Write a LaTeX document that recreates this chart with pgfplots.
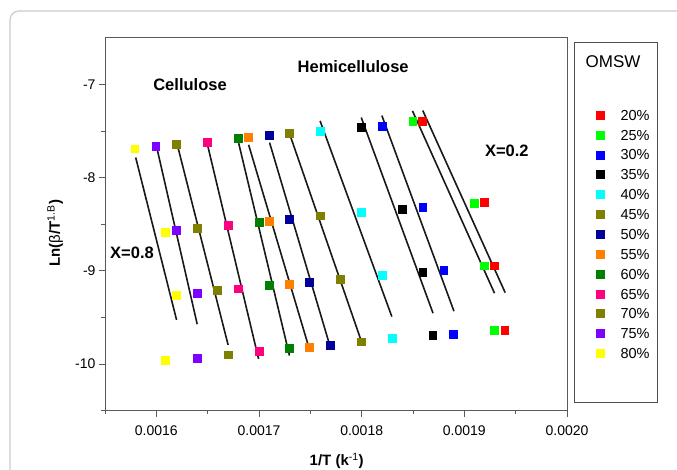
\documentclass[border=0pt]{standalone}
\usepackage{fontspec}
\setmainfont{Liberation Sans}
\usepackage{pgfplots}
\pgfplotsset{compat=1.18}

\definecolor{c20}{HTML}{FF0000}
\definecolor{c25}{HTML}{00FF00}
\definecolor{c30}{HTML}{0000FF}
\definecolor{c35}{HTML}{000000}
\definecolor{c40}{HTML}{00FFFF}
\definecolor{c45}{HTML}{808000}
\definecolor{c50}{HTML}{000099}
\definecolor{c55}{HTML}{FF8000}
\definecolor{c60}{HTML}{008000}
\definecolor{c65}{HTML}{FF0080}
\definecolor{c70}{HTML}{808000}
\definecolor{c75}{HTML}{8000FF}
\definecolor{c80}{HTML}{FFFF00}

\pgfplotsset{
  mk/.style={only marks, mark=square*, mark size=3.9pt, color=#1, mark options={draw=#1, fill=#1}},
  fit/.style={black!90, line width=1.6pt, forget plot},
}

\begin{document}
\begin{tikzpicture}
\useasboundingbox (0pt,0pt) rectangle (677pt,469pt);
\fill[white] (0pt,0pt) rectangle (677pt,469pt);
\begin{scope}
\clip (0pt,0pt) rectangle (677pt,469pt);
\draw[gray!40, line width=1.2pt, rounded corners=9pt] (10pt,-30pt) rectangle (720pt,458pt);
\end{scope}
% legend frame and title
\draw[black!70, line width=0.9pt] (574.3pt,66.3pt) rectangle (657.3pt,426.7pt);
\node[font=\fontsize{17}{17}\selectfont] at (613pt,407.3pt) {OMSW};

\begin{axis}[
    at={(105pt,58.3pt)}, anchor=south west,
    scale only axis, width=462pt, height=373pt,
    xmin=0.00155, xmax=0.0020, ymin=-10.5, ymax=-6.5,
    xtick={0.0016,0.0017,0.0018,0.0019,0.0020},
    minor xtick={0.00155,0.00165,0.00175,0.00185,0.00195},
    ytick={-10,-9,-8,-7},
    minor ytick={-10.5,-9.5,-8.5,-7.5},
    tick pos=left, tick align=outside,
    major tick length=6pt, minor tick length=3.5pt,
    every tick/.style={black!65, line width=0.9pt},
    axis line style={black!65, line width=0.9pt},
    scaled x ticks=false,
    xticklabel style={yshift=-5pt, /pgf/number format/.cd, fixed, fixed zerofill, precision=4},
    /pgf/number format/assume math mode=true,
    tick label style={font=\fontsize{14}{14}\selectfont, black},
    xlabel={1/T (k\textsuperscript{\mdseries -1})},
    ylabel={Ln({\mdseries β}/T\textsuperscript{\mdseries 1.B})},
    every axis x label/.style={at={(axis description cs:0.5015,-0.135)}, anchor=center, font=\fontsize{15}{15}\selectfont\bfseries},
    every axis y label/.style={at={(axis description cs:-0.108,0.476)}, anchor=center, rotate=90, font=\fontsize{15}{15}\selectfont\bfseries},
    legend style={at={(axis description cs:1.0623,0.8068)}, anchor=north west, draw=none, fill=none,
      inner sep=0pt, outer sep=0pt, row sep=9.36pt, font=\fontsize{14.5}{14.5}\selectfont,
      nodes={inner sep=0pt, text height=10.5pt, text depth=0pt},
      /tikz/every odd column/.style={column sep=16.8pt}},
    legend cell align=left,
    legend image code/.code={\draw[#1, mark size=4pt] plot coordinates {(0pt,0pt)};},
]
\addplot[mk=c20] coordinates {(0.0018592,-7.399) (0.0019190,-8.261) (0.0019287,-8.944) (0.0019394,-9.634)};
\addlegendentry{20\%}
\addplot[mk=c25] coordinates {(0.0018498,-7.399) (0.0019097,-8.271) (0.0019194,-8.944) (0.0019291,-9.634)};
\addlegendentry{25\%}
\addplot[mk=c30] coordinates {(0.0018197,-7.445) (0.0018595,-8.317) (0.0018799,-8.993) (0.0018893,-9.680)};
\addlegendentry{30\%}
\addplot[mk=c35] coordinates {(0.0017996,-7.456) (0.0018391,-8.339) (0.0018595,-9.015) (0.0018692,-9.690)};
\addlegendentry{35\%}
\addplot[mk=c40] coordinates {(0.0017595,-7.499) (0.0017993,-8.375) (0.0018197,-9.051) (0.0018294,-9.723)};
\addlegendentry{40\%}
\addplot[mk=c45] coordinates {(0.0017297,-7.524) (0.0017595,-8.408) (0.0017789,-9.087) (0.0017993,-9.759)};
\addlegendentry{45\%}
\addplot[mk=c50] coordinates {(0.0017097,-7.549) (0.0017297,-8.446) (0.0017491,-9.119) (0.0017695,-9.794)};
\addlegendentry{50\%}
\addplot[mk=c55] coordinates {(0.0016896,-7.571) (0.0017097,-8.468) (0.0017297,-9.143) (0.0017491,-9.816)};
\addlegendentry{55\%}
\addplot[mk=c60] coordinates {(0.0016799,-7.582) (0.0017000,-8.478) (0.0017097,-9.154) (0.0017297,-9.830)};
\addlegendentry{60\%}
\addplot[mk=c65] coordinates {(0.0016495,-7.620) (0.0016699,-8.515) (0.0016799,-9.191) (0.0017000,-9.866)};
\addlegendentry{65\%}
\addplot[mk=c70] coordinates {(0.0016197,-7.642) (0.0016398,-8.540) (0.0016592,-9.212) (0.0016699,-9.899)};
\addlegendentry{70\%}
\addplot[mk=c75] coordinates {(0.0015993,-7.667) (0.0016194,-8.561) (0.0016398,-9.237) (0.0016398,-9.934)};
\addlegendentry{75\%}
\addplot[mk=c80] coordinates {(0.0015789,-7.690) (0.0016087,-8.586) (0.0016194,-9.258) (0.0016087,-9.959)};
\addlegendentry{80\%}

% fitted lines
\addplot[fit] coordinates {(0.0015799,-7.785) (0.0016197,-9.526)};
\addplot[fit] coordinates {(0.0016006,-7.685) (0.0016398,-9.572)};
\addplot[fit] coordinates {(0.0016207,-7.660) (0.0016699,-9.794)};
\addplot[fit] coordinates {(0.0016501,-7.660) (0.0016996,-9.945)};
\addplot[fit] coordinates {(0.0016802,-7.631) (0.0017297,-9.909)};
\addplot[fit] coordinates {(0.0016899,-7.649) (0.0017495,-9.856)};
\addplot[fit] coordinates {(0.0017103,-7.625) (0.0017683,-9.776)};
\addplot[fit] coordinates {(0.0017304,-7.550) (0.0017990,-9.733)};
\addplot[fit] coordinates {(0.0017595,-7.392) (0.0018294,-9.491)};
\addplot[fit] coordinates {(0.0017996,-7.356) (0.0018695,-9.454)};
\addplot[fit] coordinates {(0.0018197,-7.335) (0.0018899,-9.433)};
\addplot[fit] coordinates {(0.0018495,-7.285) (0.0019294,-9.240)};
\addplot[fit] coordinates {(0.0018595,-7.281) (0.0019398,-9.234)};

\node[font=\fontsize{16.5}{16.5}\selectfont\bfseries] at (axis cs:0.0016328,-7.0025) {Cellulose};
\node[font=\fontsize{16.5}{16.5}\selectfont\bfseries] at (axis cs:0.0017917,-6.809) {Hemicellulose};
\node[font=\fontsize{16.5}{16.5}\selectfont\bfseries] at (axis cs:0.0019414,-7.714) {X=0.2};
\node[font=\fontsize{16.5}{16.5}\selectfont\bfseries] at (axis cs:0.0015763,-8.811) {X=0.8};
\end{axis}
\end{tikzpicture}
\end{document}
